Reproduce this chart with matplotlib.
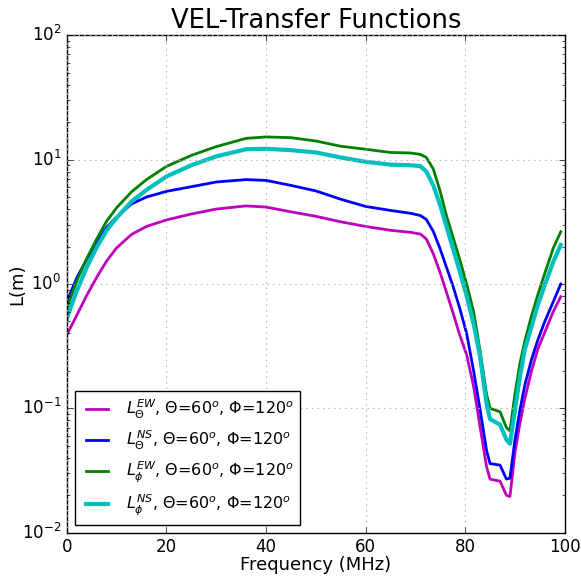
import numpy as np
import matplotlib
matplotlib.use('Agg')
import matplotlib.pyplot as plt

plt.style.use('classic')
plt.rcParams['mathtext.fontset'] = 'dejavusans'

# frequencies (MHz)
freq = [0, 2, 4, 6, 8, 10, 13, 16, 20, 25, 30, 36, 40, 45, 50, 55, 60, 65,
        69, 71, 72.2, 73.6, 74.9, 76.2, 77.6, 78.9, 80.3, 81.7, 83, 84.3,
        85, 87, 88.3, 89, 90, 91, 92, 93.3, 94.6, 96, 97.7, 99.2]

L_theta_ew = [0.39, 0.56, 0.81, 1.13, 1.53, 1.95, 2.5, 2.9, 3.27, 3.65, 4.0,
              4.24, 4.15, 3.8, 3.5, 3.16, 2.9, 2.7, 2.6, 2.52, 2.3, 1.75,
              1.26, 0.87, 0.58, 0.39, 0.27, 0.15, 0.071, 0.034, 0.027, 0.026,
              0.020, 0.0196, 0.044, 0.076, 0.12, 0.198, 0.30, 0.41, 0.6, 0.79]
L_theta_ns = [0.72, 1.12, 1.58, 2.15, 2.85, 3.45, 4.4, 5.0, 5.55, 6.05, 6.6,
              6.9, 6.8, 6.2, 5.6, 4.8, 4.2, 3.9, 3.7, 3.55, 3.3, 2.65, 1.95,
              1.38, 0.95, 0.64, 0.40, 0.2, 0.098, 0.046, 0.036, 0.035, 0.027,
              0.0275, 0.056, 0.097, 0.155, 0.245, 0.355, 0.5, 0.72, 1.0]
L_phi_ew = [0.64, 1.06, 1.6, 2.3, 3.2, 4.1, 5.5, 6.9, 8.8, 10.8, 12.7, 14.8,
            15.2, 15.0, 14.1, 12.8, 12.1, 11.4, 11.3, 11.0, 10.4, 8.4, 5.7,
            3.6, 2.35, 1.58, 1.0, 0.6, 0.29, 0.13, 0.10, 0.094, 0.07, 0.066,
            0.13, 0.23, 0.35, 0.55, 0.82, 1.22, 1.94, 2.63]
L_phi_ns = [0.53, 0.88, 1.36, 1.97, 2.7, 3.4, 4.6, 5.7, 7.3, 9.0, 10.6, 12.1,
            12.2, 11.9, 11.4, 10.4, 9.6, 9.1, 9.0, 8.85, 8.0, 6.2, 4.4, 2.95,
            1.9, 1.27, 0.8, 0.48, 0.26, 0.11, 0.082, 0.074, 0.056, 0.052,
            0.097, 0.18, 0.30, 0.45, 0.68, 0.98, 1.51, 2.06]

labels = [r'$L_{\Theta}^{EW}$, $\Theta$=60$^o$, $\Phi$=120$^o$',
          r'$L_{\Theta}^{NS}$, $\Theta$=60$^o$, $\Phi$=120$^o$',
          r'$L_{\phi}^{EW}$, $\Theta$=60$^o$, $\Phi$=120$^o$',
          r'$L_{\phi}^{NS}$, $\Theta$=60$^o$, $\Phi$=120$^o$']

fig = plt.figure(figsize=(5.81, 5.76), dpi=100, facecolor='white')
ax = fig.add_axes([0.115, 0.075, 0.857, 0.864])

ax.plot(freq, L_theta_ew, 'm', lw=2, label=labels[0])
ax.plot(freq, L_theta_ns, 'b', lw=2, label=labels[1])
ax.plot(freq, L_phi_ew, 'g', lw=2, label=labels[2])
ax.plot(freq, L_phi_ns, 'c', lw=3, label=labels[3])

ax.set_yscale('log')
ax.set_xlim(0, 100)
ax.set_ylim(1e-2, 1e2)
ax.grid(True, color='#b0b0b0', linestyle=':', linewidth=0.8)
ax.set_xlabel('Frequency (MHz)', fontsize=13, labelpad=0)
ax.set_ylabel('L(m)', fontsize=13, labelpad=-3)
ax.set_title('VEL-Transfer Functions', fontsize=18.5)
ax.tick_params(labelsize=12)

leg = ax.legend(loc='lower left', fontsize=11.5, fancybox=False)

fig.savefig('out.png', dpi=100, facecolor='white')
